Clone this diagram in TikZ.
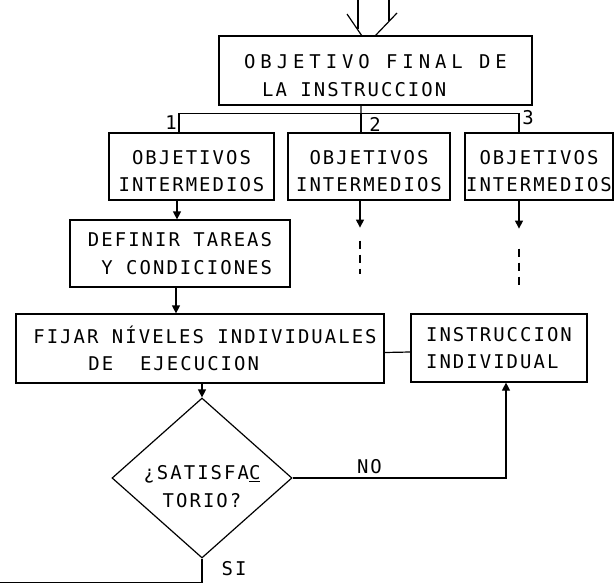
\documentclass[tikz,border=0pt]{standalone}
\usepackage{fontspec}
\usepackage{tikz}
\usetikzlibrary{shapes.geometric,arrows.meta,positioning}
\newfontfamily\lettering[LetterSpace=10.8]{DejaVu Sans Mono}

\begin{document}
\begin{tikzpicture}[x=1bp,y=-1bp,line width=1.2bp,
    font=\lettering\fontsize{19}{27.5}\selectfont,
    box/.style={draw,rectangle,inner sep=0pt},
    arr/.style={-{Triangle[length=8bp,width=8bp]}}]
  \useasboundingbox (0,0) rectangle (616,584);

  % entrada
  \coordinate (inL) at (358,0);
  \coordinate (inR) at (389,0);
  \coordinate (barbL) at (347,14);
  \coordinate (barbR) at (397,13);
  \coordinate (tipL) at (362,36);
  \coordinate (tipR) at (375,36);
  \draw (inL) -- ++(0,29);
  \draw (inR) -- ++(0,21);
  \draw (barbL) -- (tipL);
  \draw (barbR) -- (tipR);

  \node[box,minimum width=313bp,minimum height=69bp,align=left] (final) at (375.5,70.5)
    {\addfontfeature{LetterSpace=26}\rule{0pt}{24bp}OBJETIVO FINAL DE\\\hspace*{18bp}LA INSTRUCCION};

  % objetivos intermedios
  \foreach \n/\x/\w/\dx in {ob1/191.5/165/-12.5,ob2/369/162/-8,ob3/539/148/-20} {
    \node[box,minimum width=\w bp,minimum height=67bp,align=center] (\n) at (\x,166.5)
      {\rule{0pt}{23bp}OBJETIVOS\\INTERMEDIOS};
    \draw ([xshift=\dx bp]\n.north) -- ++(0,-19) coordinate (bus-\n);
  }
  \draw (bus-ob1) -- (bus-ob3);
  \draw ([xshift=-14.5bp]final.south) -- (bus-ob2);
  \node (num1) at (171,123) {1};
  \node (num2) at (375,124) {2};
  \node (num3) at (528,118) {3};

  \node[box,minimum width=220bp,minimum height=67bp,align=right] (definir) at (180,253.5)
    {DEFINIR TAREAS\\Y CONDICIONES};
  \path ([xshift=-14.5bp]ob1.south) coordinate (a1);
  \draw[arr] (a1) -- (a1 |- definir.north);

  \draw[arr] ([xshift=-9bp]ob2.south) -- ++(0,27) coordinate (cont2);
  \draw[dash pattern=on 8bp off 6bp] ([yshift=-13bp]cont2) -- ++(0,33);
  \draw[arr] ([xshift=-20bp]ob3.south) -- ++(0,28) coordinate (cont3);
  \draw[dash pattern=on 8bp off 6bp] ([yshift=-20bp]cont3) -- ++(0,42);

  \node[box,minimum width=368bp,minimum height=69bp,align=left] (fijar) at (200,348.5)
    {\hspace*{10bp}FIJAR NÍVELES INDIVIDUALES\\\hspace*{65bp}DE~~EJECUCION};
  \node[box,minimum width=176bp,minimum height=68bp,align=left] (instr) at (499,348)
    {INSTRUCCION\\INDIVIDUAL};
  \path ([xshift=-4bp]definir.south) coordinate (a2);
  \draw[arr] (a2) -- (a2 |- fijar.north);
  \draw ([yshift=-4bp]fijar.east) -- ([yshift=-4bp]instr.west);

  % decision
  \node[draw,diamond,minimum width=180bp,minimum height=160bp,inner sep=0pt] (check) at (202,478) {};
  \node[align=center] (checktext) at (202,486.5) {¿SATISFA\underline{C}\\TORIO?};
  \draw[arr] (check.north |- fijar.south) -- (check.north);
  \draw[arr] (check.east) -| ([xshift=7bp]instr.south) node[pos=0.18,above] (nolabel) {NO};
  \coordinate (siend) at (0,582.5);
  \draw (check.south) -- (check.south |- siend) -- (siend);
  \node (silabel) at (234,569) {SI};
\end{tikzpicture}
\end{document}
